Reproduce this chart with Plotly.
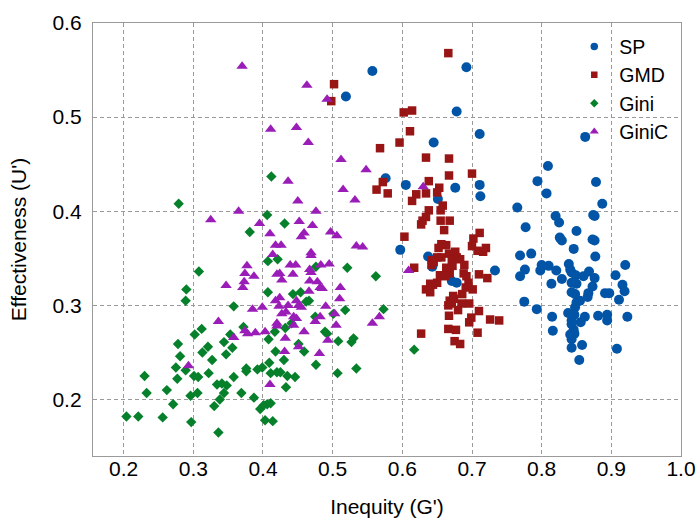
import plotly.graph_objects as go

# ---------------- data ----------------
sp_x = [0.8625, 0.809, 0.794, 0.878, 0.807, 0.887, 0.765, 0.874, 0.876, 0.820,
        0.825, 0.777, 0.850, 0.826, 0.829, 0.873, 0.876, 0.846, 0.769, 0.785,
        0.877, 0.800, 0.798, 0.810, 0.776, 0.769, 0.821, 0.839, 0.841, 0.843,
        0.849, 0.860, 0.868, 0.876, 0.829, 0.814, 0.843, 0.850, 0.873, 0.920,
        0.906, 0.916, 0.919, 0.867, 0.866, 0.843, 0.848, 0.855, 0.850, 0.891,
        0.897, 0.911, 0.775, 0.793, 0.848, 0.838, 0.847, 0.815, 0.862, 0.856,
        0.843, 0.881, 0.894, 0.894, 0.923, 0.816, 0.843, 0.846, 0.841, 0.847,
        0.843, 0.858, 0.843, 0.908, 0.854,
        0.557, 0.692, 0.519, 0.678, 0.711, 0.645, 0.576, 0.605, 0.711, 0.676,
        0.651, 0.712, 0.597, 0.637, 0.643, 0.671, 0.678, 0.733]
sp_y = [0.479, 0.448, 0.432, 0.431, 0.419, 0.408, 0.404, 0.396, 0.395, 0.395,
        0.388, 0.383, 0.379, 0.372, 0.369, 0.370, 0.369, 0.360, 0.353, 0.355,
        0.352, 0.343, 0.337, 0.342, 0.338, 0.331, 0.337, 0.344, 0.338, 0.335,
        0.332, 0.331, 0.336, 0.329, 0.328, 0.323, 0.324, 0.323, 0.320, 0.343,
        0.332, 0.322, 0.315, 0.313, 0.309, 0.314, 0.312, 0.305, 0.303, 0.313,
        0.313, 0.306, 0.304, 0.296, 0.298, 0.292, 0.290, 0.288, 0.288, 0.282,
        0.284, 0.289, 0.290, 0.284, 0.288, 0.273, 0.280, 0.274, 0.269, 0.270,
        0.264, 0.258, 0.255, 0.254, 0.242,
        0.549, 0.553, 0.522, 0.506, 0.482, 0.473, 0.435, 0.428, 0.428, 0.425,
        0.413, 0.416, 0.359, 0.352, 0.341, 0.326, 0.324, 0.337]

gmd_x = [0.666, 0.502, 0.498, 0.602, 0.614, 0.611, 0.568, 0.596, 0.634, 0.667,
         0.667, 0.700, 0.572, 0.638, 0.563, 0.579, 0.620, 0.634, 0.653, 0.650,
         0.614, 0.658, 0.638, 0.655,
         0.634, 0.629, 0.627, 0.655, 0.668, 0.660, 0.603, 0.711, 0.702, 0.700,
         0.720, 0.716, 0.708, 0.656, 0.663, 0.652, 0.676, 0.678, 0.667, 0.656,
         0.650, 0.642, 0.642, 0.671, 0.683, 0.672, 0.689, 0.617, 0.663, 0.668,
         0.654, 0.661, 0.688, 0.692, 0.710, 0.722, 0.650, 0.644, 0.634, 0.640,
         0.695, 0.691, 0.686, 0.701, 0.673, 0.668, 0.671, 0.685, 0.680, 0.696,
         0.710, 0.667, 0.699, 0.696, 0.726, 0.739, 0.666, 0.677, 0.708, 0.627,
         0.675, 0.683, 0.645, 0.640, 0.674, 0.666]
gmd_y = [0.568, 0.535, 0.517, 0.505, 0.507, 0.485, 0.467, 0.473, 0.457, 0.456,
         0.438, 0.440, 0.431, 0.432, 0.423, 0.419, 0.418, 0.419, 0.425, 0.420,
         0.411, 0.406, 0.401, 0.401,
         0.394, 0.390, 0.386, 0.390, 0.390, 0.380, 0.373, 0.377, 0.371, 0.363,
         0.361, 0.357, 0.358, 0.365, 0.364, 0.361, 0.357, 0.351, 0.355, 0.351,
         0.351, 0.348, 0.343, 0.348, 0.349, 0.342, 0.343, 0.340, 0.340, 0.334,
         0.332, 0.331, 0.334, 0.331, 0.333, 0.329, 0.324, 0.322, 0.317, 0.314,
         0.324, 0.319, 0.312, 0.317, 0.310, 0.305, 0.302, 0.302, 0.295, 0.302,
         0.294, 0.289, 0.287, 0.282, 0.285, 0.284, 0.275, 0.274, 0.271, 0.270,
         0.262, 0.259, 0.346, 0.323, 0.307, 0.300]

gini_x = [0.279, 0.412, 0.406, 0.431, 0.381, 0.407, 0.421, 0.308, 0.290, 0.289,
          0.358, 0.407, 0.443, 0.454, 0.466, 0.462, 0.476, 0.521, 0.562, 0.573,
          0.518, 0.501, 0.475, 0.441, 0.432, 0.417, 0.489, 0.492, 0.530, 0.527,
          0.508, 0.408, 0.451, 0.459, 0.372, 0.312, 0.302, 0.353, 0.344, 0.356,
          0.347, 0.278, 0.281, 0.321, 0.313, 0.327, 0.418, 0.430, 0.409, 0.476,
          0.275, 0.277, 0.289, 0.301, 0.307, 0.322, 0.230, 0.233, 0.262, 0.271,
          0.296, 0.306, 0.204, 0.221, 0.256, 0.297, 0.336, 0.330, 0.338, 0.334,
          0.341, 0.348, 0.344, 0.358, 0.369, 0.376, 0.376, 0.387, 0.392, 0.399,
          0.411, 0.420, 0.425, 0.435, 0.446, 0.433, 0.396, 0.401, 0.406, 0.411,
          0.403, 0.414, 0.617, 0.507, 0.534]
gini_y = [0.408, 0.437, 0.396, 0.387, 0.378, 0.347, 0.349, 0.336, 0.317, 0.305,
          0.299, 0.314, 0.312, 0.314, 0.305, 0.304, 0.341, 0.340, 0.331, 0.296,
          0.295, 0.291, 0.288, 0.281, 0.276, 0.272, 0.272, 0.270, 0.265, 0.261,
          0.262, 0.264, 0.259, 0.251, 0.277, 0.275, 0.269, 0.269, 0.261, 0.255,
          0.248, 0.259, 0.246, 0.256, 0.250, 0.242, 0.251, 0.242, 0.239, 0.237,
          0.234, 0.222, 0.231, 0.225, 0.224, 0.228, 0.225, 0.207, 0.210, 0.195,
          0.204, 0.207, 0.182, 0.182, 0.181, 0.176, 0.165, 0.193, 0.200, 0.216,
          0.217, 0.215, 0.207, 0.224, 0.207, 0.233, 0.230, 0.202, 0.232, 0.234,
          0.228, 0.229, 0.229, 0.225, 0.224, 0.213, 0.190, 0.194, 0.195, 0.196,
          0.178, 0.177, 0.253, 0.228, 0.233]

ginic_x = [0.370, 0.463, 0.492, 0.411, 0.448, 0.465, 0.512, 0.548, 0.436, 0.630,
           0.515, 0.532, 0.450, 0.365, 0.476, 0.325, 0.395, 0.452, 0.471, 0.410,
           0.459, 0.455, 0.497, 0.506, 0.418, 0.426, 0.534, 0.543, 0.414, 0.469,
           0.469, 0.377, 0.439, 0.447, 0.483, 0.495, 0.467, 0.469, 0.374, 0.387,
           0.420, 0.424, 0.443, 0.609, 0.373, 0.371, 0.427, 0.467, 0.478, 0.482,
           0.485, 0.511, 0.466, 0.347, 0.510, 0.418, 0.424, 0.448, 0.385, 0.399,
           0.423, 0.436, 0.451, 0.455, 0.490, 0.427, 0.433, 0.448, 0.444, 0.475,
           0.482, 0.503, 0.567, 0.557, 0.420, 0.420, 0.444, 0.505, 0.336, 0.374,
           0.389, 0.403, 0.378, 0.459, 0.358, 0.432, 0.493, 0.431, 0.451, 0.481,
           0.293, 0.410]
ginic_y = [0.554, 0.534, 0.519, 0.487, 0.489, 0.473, 0.455, 0.444, 0.432, 0.426,
           0.423, 0.412, 0.411, 0.400, 0.400, 0.391, 0.387, 0.389, 0.385, 0.376,
           0.377, 0.373, 0.378, 0.374, 0.364, 0.364, 0.363, 0.362, 0.354, 0.356,
           0.353, 0.342, 0.343, 0.343, 0.343, 0.344, 0.338, 0.335, 0.334, 0.331,
           0.333, 0.334, 0.333, 0.337, 0.325, 0.319, 0.327, 0.326, 0.325, 0.319,
           0.318, 0.319, 0.315, 0.321, 0.307, 0.305, 0.308, 0.305, 0.296, 0.298,
           0.299, 0.300, 0.300, 0.298, 0.299, 0.291, 0.293, 0.286, 0.288, 0.283,
           0.288, 0.291, 0.288, 0.281, 0.281, 0.278, 0.279, 0.279, 0.283, 0.273,
           0.271, 0.272, 0.270, 0.272, 0.266, 0.265, 0.263, 0.251, 0.256, 0.249,
           0.236, 0.216]

series_names = ["SP", "GMD", "Gini", "GiniC"]
x_ticks = [0.2, 0.3, 0.4, 0.5, 0.6, 0.7, 0.8, 0.9, 1.0]
y_ticks = [0.2, 0.3, 0.4, 0.5, 0.6]
x_title = "Inequity (G')"
y_title = "Effectiveness (U')"

# ---------------- styles ----------------
colors = ["#0255A6", "#981515", "#06802A", "#9A1DB8"]
symbols = ["circle", "square", "diamond", "triangle-up"]
sizes = [10, 8.5, 8, 10]
legend_sizes = [7.5, 6.5, 6.5, 8]
data = [(sp_x, sp_y), (gmd_x, gmd_y), (gini_x, gini_y), (ginic_x, ginic_y)]

fig = go.Figure()
for (xs, ys), name, c, s, sz in zip(data, series_names, colors, symbols, sizes):
    fig.add_trace(go.Scatter(x=xs, y=ys, mode="markers", name=name, showlegend=False,
                             marker=dict(color=c, symbol=s, size=sz, line=dict(width=0))))
for name, c, s, sz in zip(series_names, colors, symbols, legend_sizes):
    fig.add_trace(go.Scatter(x=[None], y=[None], mode="markers", name=name,
                             marker=dict(color=c, symbol=s, size=sz, line=dict(width=0))))

axis_common = dict(
    showline=True, linecolor="#9a9a9a", linewidth=1.3, mirror=True,
    showgrid=True, gridcolor="#9a9a9a", gridwidth=1, griddash="4px,3px",
    zeroline=False, ticks="", tickformat=".1f",
    tickfont=dict(size=21, color="black"),
)
fig.update_xaxes(range=[0.156, 1.0], tickvals=x_ticks,
                 title=dict(text=x_title, font=dict(size=21, color="black"), standoff=19),
                 ticklabelstandoff=-6, **axis_common)
fig.update_yaxes(range=[0.14, 0.6], tickvals=y_ticks,
                 title=dict(text=y_title, font=dict(size=21, color="black"), standoff=20),
                 ticklabelstandoff=6, **axis_common)

fig.update_layout(
    width=697, height=523,
    margin=dict(l=93, r=16, t=23, b=67, autoexpand=False),
    paper_bgcolor="white", plot_bgcolor="white",
    font=dict(family="Liberation Sans, Arial, sans-serif", size=21, color="black"),
    legend=dict(x=0.81, y=0.99, xanchor="left", yanchor="top",
                bgcolor="rgba(0,0,0,0)", borderwidth=0, itemwidth=40,
                tracegroupgap=0, font=dict(size=19.5)),
)
fig.write_html("out.html")
